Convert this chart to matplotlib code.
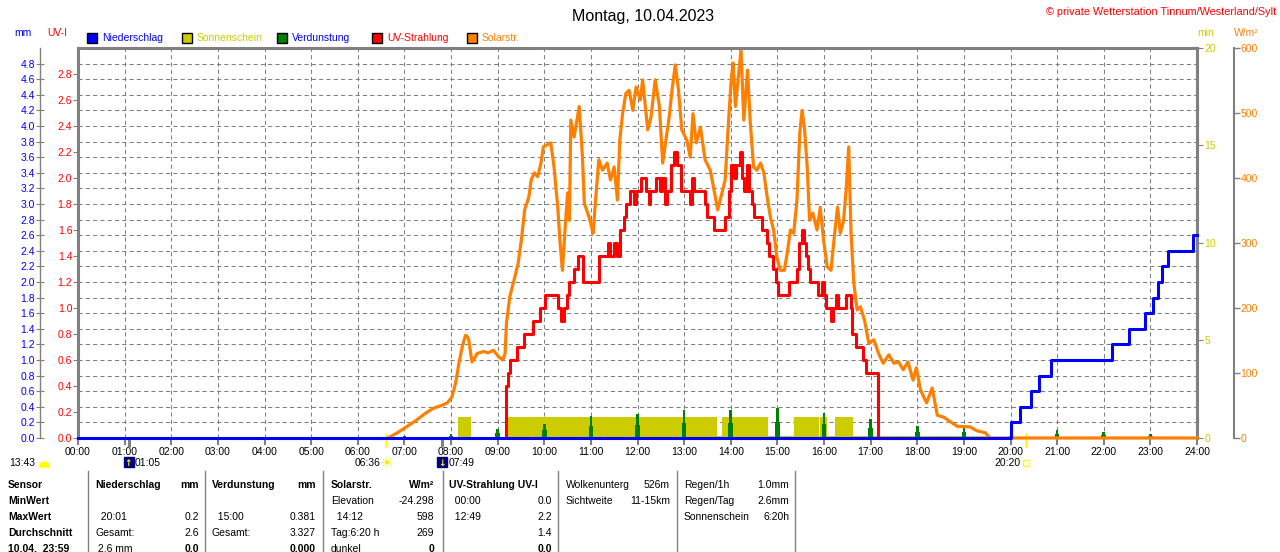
import matplotlib
matplotlib.use("Agg")
import matplotlib.pyplot as plt
import matplotlib.transforms as mtransforms
from matplotlib.patches import Rectangle, Wedge

# ---------------- data ----------------
title = "Montag, 10.04.2023"
copyright_text = "© private Wetterstation Tinnum/Westerland/Sylt"

hour_ticks = [0, 1, 2, 3, 4, 5, 6, 7, 8, 9, 10, 11, 12, 13, 14, 15, 16, 17, 18, 19, 20, 21, 22, 23, 24]
hour_labels = ["00:00", "01:00", "02:00", "03:00", "04:00", "05:00", "06:00", "07:00", "08:00",
               "09:00", "10:00", "11:00", "12:00", "13:00", "14:00", "15:00", "16:00", "17:00",
               "18:00", "19:00", "20:00", "21:00", "22:00", "23:00", "24:00"]

mm_ticks = [0.0, 0.2, 0.4, 0.6, 0.8, 1.0, 1.2, 1.4, 1.6, 1.8, 2.0, 2.2, 2.4, 2.6, 2.8, 3.0,
            3.2, 3.4, 3.6, 3.8, 4.0, 4.2, 4.4, 4.6, 4.8]
uv_ticks = [0.0, 0.2, 0.4, 0.6, 0.8, 1.0, 1.2, 1.4, 1.6, 1.8, 2.0, 2.2, 2.4, 2.6, 2.8]
min_ticks = [0, 5, 10, 15, 20]
wm2_ticks = [0, 100, 200, 300, 400, 500, 600]

legend_labels = ["Niederschlag", "Sonnenschein", "Verdunstung", "UV-Strahlung", "Solarstr."]
legend_face = ["#0000ff", "#cccc00", "#008000", "#ff0000", "#ff8000"]
legend_text_color = ["#0000ff", "#cccc00", "#0000ff", "#ff0000", "#ff8000"]

# Niederschlag (cumulative mm), step changes
rain_t = [0.0, 20.0, 20.21, 20.44, 20.62, 20.86, 22.17, 22.55, 22.89, 23.06, 23.16, 23.25, 23.38, 23.91, 24.0]
rain_mm = [0.0, 0.2, 0.4, 0.6, 0.8, 1.0, 1.2, 1.4, 1.6, 1.8, 2.0, 2.2, 2.4, 2.6, 2.6]

# Verdunstung (mm per hour)
evap_h = [1, 2, 3, 4, 5, 6, 7, 8, 9, 10, 11, 12, 13, 14, 15, 16, 17, 18, 19, 20, 21, 22, 23]
evap_mm = [0.01, 0.01, 0.01, 0.01, 0.01, 0.01, 0.02, 0.05, 0.11, 0.18, 0.28, 0.31, 0.36, 0.36,
           0.381, 0.32, 0.24, 0.15, 0.13, 0.03, 0.10, 0.08, 0.05]

# Sonnenschein intervals (hours) and bar value (min)
sun_start = [8.16, 9.23, 13.81, 15.36, 15.92, 16.23]
sun_end = [8.43, 13.70, 14.80, 15.89, 16.07, 16.62]
sun_min = [1.1, 1.1, 1.1, 1.1, 1.1, 1.1]
sun_base_t = [12.67, 19.55]
sun_base_v = [0, 0]

# Solarstrahlung W/m2
solar_t = [6.65, 6.85, 7.00, 7.27, 7.45, 7.63, 7.80, 7.92, 8.02, 8.10, 8.17, 8.24, 8.31, 8.35, 8.38,
           8.45, 8.50, 8.56, 8.70, 8.80, 8.91, 9.02, 9.11, 9.16, 9.19, 9.26, 9.37, 9.44, 9.51, 9.58,
           9.67, 9.72, 9.79, 9.86, 9.93, 9.98, 10.07, 10.14, 10.21, 10.29, 10.34, 10.39, 10.45,
           10.50, 10.54, 10.57, 10.64, 10.75, 10.82, 10.86, 10.96, 11.05, 11.10, 11.17, 11.25,
           11.35, 11.42, 11.50, 11.57, 11.62, 11.68, 11.75, 11.82, 11.90, 11.97, 12.06, 12.11,
           12.22, 12.29, 12.38, 12.47, 12.54, 12.61, 12.68, 12.74, 12.81, 12.88, 12.95, 13.06,
           13.13, 13.19, 13.26, 13.35, 13.45, 13.56, 13.63, 13.72, 13.81, 13.88, 13.95, 14.01,
           14.05, 14.10, 14.17, 14.22, 14.28, 14.36, 14.42, 14.49, 14.56, 14.64, 14.71, 14.78,
           14.85, 14.92, 14.99, 15.06, 15.15, 15.21, 15.28, 15.35, 15.42, 15.48, 15.53, 15.58,
           15.64, 15.69, 15.76, 15.85, 15.92, 15.99, 16.07, 16.15, 16.22, 16.29, 16.35, 16.42,
           16.48, 16.53, 16.58, 16.64, 16.71, 16.78, 16.87, 16.96, 17.07, 17.17, 17.27, 17.39,
           17.50, 17.60, 17.70, 17.80, 17.91, 17.98, 18.07, 18.20, 18.32, 18.43, 18.57, 18.71,
           18.86, 19.14, 19.28, 19.46, 19.56, 24.0]
solar_w = [0, 8, 15, 28, 38, 46, 50, 54, 63, 85, 115, 140, 158, 156, 151,
           117, 122, 130, 133, 131, 135, 125, 120, 130, 177, 217, 248, 269, 305, 351,
           371, 397, 408, 402, 423, 448, 451, 454, 417, 355, 300, 258, 325,
           377, 335, 489, 463, 510, 432, 361, 340, 315, 366, 428, 412,
           423, 397, 417, 366, 458, 499, 530, 535, 504, 540, 520, 551,
           474, 494, 551, 510, 423, 458, 494, 535, 574, 535, 474, 458,
           432, 499, 454, 478, 428, 412, 386, 351, 377, 397, 484, 551,
           577, 510, 561, 597, 489, 566, 484, 417, 412, 423, 408, 371,
           340, 320, 278, 258, 258, 284, 320, 315, 366, 469, 504, 478,
           417, 335, 346, 320, 355, 305, 263, 258, 309, 355, 315, 335,
           386, 448, 315, 238, 197, 202, 181, 146, 151, 130, 115, 128,
           115, 117, 105, 117, 89, 108, 74, 54, 77, 35, 32, 25,
           18, 17, 11, 8, 0, 0]

# UV-Strahlung (UV-I), step changes
uv_t = [9.17, 9.18, 9.22, 9.26, 9.41, 9.56, 9.76, 9.91, 10.02, 10.30, 10.36, 10.42, 10.49, 10.54,
        10.63, 10.72, 10.84, 11.17, 11.36, 11.42, 11.49, 11.55, 11.62, 11.70, 11.76, 11.84, 11.92,
        11.97, 12.08, 12.18, 12.24, 12.27, 12.40, 12.48, 12.53, 12.58, 12.64, 12.72, 12.79, 12.84,
        12.94, 13.13, 13.16, 13.22, 13.44, 13.48, 13.64, 13.87, 13.97, 14.01, 14.08, 14.12, 14.19,
        14.24, 14.28, 14.34, 14.40, 14.45, 14.50, 14.66, 14.78, 14.83, 14.90, 14.96, 15.02, 15.26,
        15.43, 15.47, 15.53, 15.58, 15.62, 15.66, 15.70, 15.87, 15.96, 16.00, 16.04, 16.15, 16.20,
        16.26, 16.31, 16.47, 16.57, 16.60, 16.68, 16.84, 16.90, 17.16]
uv_i = [0.0, 0.4, 0.5, 0.6, 0.7, 0.8, 0.9, 1.0, 1.1, 1.0, 0.9, 1.0, 1.1, 1.2,
        1.3, 1.4, 1.2, 1.4, 1.5, 1.4, 1.5, 1.4, 1.6, 1.7, 1.8, 1.9, 1.8,
        1.9, 2.0, 1.9, 1.8, 1.9, 2.0, 1.9, 2.0, 1.8, 1.9, 2.1, 2.2, 2.1,
        1.9, 1.8, 2.0, 1.9, 1.8, 1.7, 1.6, 1.7, 1.9, 2.1, 2.0, 2.1, 2.2,
        2.0, 1.9, 2.1, 1.9, 1.8, 1.7, 1.6, 1.5, 1.4, 1.3, 1.2, 1.1, 1.2,
        1.3, 1.5, 1.6, 1.5, 1.4, 1.3, 1.2, 1.1, 1.2, 1.1, 1.0, 0.9, 1.0,
        1.1, 1.0, 1.1, 1.0, 0.8, 0.7, 0.6, 0.5, 0.0]

# Sun / moon events
event_t = [1 + 5 / 60, 6 + 36 / 60, 7 + 49 / 60, 20 + 20 / 60]
event_label = ["01:05", "06:36", "07:49", "20:20"]
event_kind = ["moonrise", "sunrise", "moonset", "sunset"]
moon_phase_label = "13:43"

# Table
table_rows = [
    ["Sensor", "Niederschlag", "mm", "Verdunstung", "mm", "Solarstr.", "W/m²", "UV-Strahlung UV-I", "",
     "Wolkenunterg", "526m", "Regen/1h", "1.0mm"],
    ["MinWert", "", "", "", "", "Elevation", "-24.298", "  00:00", "0.0",
     "Sichtweite", "11-15km", "Regen/Tag", "2.6mm"],
    ["MaxWert", "  20:01", "0.2", "  15:00", "0.381", "  14:12", "598", "  12:49", "2.2",
     "", "", "Sonnenschein", "6:20h"],
    ["Durchschnitt", "Gesamt:", "2.6", "Gesamt:", "3.327", "Tag:6:20 h", "269", "", "1.4",
     "", "", "", ""],
    ["10.04.  23:59", " 2.6 mm", "0.0", "", "0.000", "dunkel", "0", "", "0.0",
     "", "", "", ""],
]

# ---------------- layout ----------------
W, H = 1280, 552
plt.rcParams["font.family"] = ["Liberation Sans", "DejaVu Sans"]
FS = 7.5
GRAY = "#808080"

fig = plt.figure(figsize=(W / 100, H / 100), dpi=100, facecolor="white")
L, R, T, B = 78, 1197, 48, 438
rect = [L / W, 1 - B / H, (R - L) / W, (B - T) / H]


def fx(x):
    return x / W


def fy(y):
    return 1 - y / H


# base axis: mm + grid
ax = fig.add_axes(rect)
ax.set_xlim(0, 24)
ax.set_ylim(0, 5.0)
ax.set_xticks(hour_ticks)
ax.set_xticklabels(hour_labels)
ax.set_yticks(mm_ticks)
ax.set_yticklabels([f"{v:.1f}" for v in mm_ticks])
ax.grid(True, color=GRAY, linestyle=(0, (4, 3)), linewidth=0.75)
for s in ["top", "right", "bottom"]:
    ax.spines[s].set_visible(False)
ax.spines["left"].set_position(("outward", 27.4))
ax.spines["left"].set_color(GRAY)
ax.spines["left"].set_linewidth(1.0)
ax.tick_params(axis="y", direction="inout", length=5.8, width=0.8, color=GRAY,
               labelcolor="#0000ff", labelsize=FS, pad=0.7)
ax.tick_params(axis="x", direction="out", length=5, width=1.5, color=GRAY,
               labelcolor="black", labelsize=FS, pad=1.5)

# sunshine (min axis, right at frame)
ax_min = ax.twinx()
ax_min.set_ylim(0, 20)
ax_min.set_yticks(min_ticks)
ax_min.set_yticklabels([str(v) for v in min_ticks])
for s in ["left", "top", "bottom"]:
    ax_min.spines[s].set_visible(False)
ax_min.spines["right"].set_color(GRAY)
ax_min.spines["right"].set_linewidth(2.2)
ax_min.tick_params(axis="y", direction="out", length=4.3, width=0.8, color=GRAY,
                   labelcolor="#cccc00", labelsize=FS, pad=1)
ax_min.bar(sun_start, sun_min, width=[e - s for s, e in zip(sun_start, sun_end)],
           align="edge", color="#cccc00", linewidth=0)
ax_min.plot(sun_base_t, sun_base_v, color="#cccc00", lw=3.0, clip_on=False, solid_capstyle="butt")

# evaporation (mm)
ax_ev = fig.add_axes(rect, sharex=ax, sharey=ax)
ax_ev.set_axis_off()
ax_ev.bar(evap_h, evap_mm, width=0.055, color="#008000", linewidth=0)
ax_ev.bar(evap_h, [v * 0.55 for v in evap_mm], width=0.1, color="#008000", linewidth=0)

# solar radiation (W/m2), outer right axis
ax_w = ax.twinx()
ax_w.set_ylim(0, 600)
ax_w.set_yticks(wm2_ticks)
ax_w.set_yticklabels([str(v) for v in wm2_ticks])
for s in ["left", "top", "bottom"]:
    ax_w.spines[s].set_visible(False)
ax_w.spines["right"].set_position(("outward", 26.6))
ax_w.spines["right"].set_color(GRAY)
ax_w.spines["right"].set_linewidth(1.5)
ax_w.tick_params(axis="y", direction="out", length=4.3, width=1.0, color=GRAY,
                 labelcolor="#ff8000", labelsize=FS, pad=0.5)
ax_w.plot(solar_t, solar_w, color="#ff8000", lw=2.3, clip_on=False)

# UV (left, at frame)
ax_uv = ax.twinx()
ax_uv.set_ylim(0, 3.0)
ax_uv.yaxis.tick_left()
ax_uv.set_yticks(uv_ticks)
ax_uv.set_yticklabels([f"{v:.1f}" for v in uv_ticks])
for s in ["right", "bottom"]:
    ax_uv.spines[s].set_visible(False)
for s in ["left", "top"]:
    ax_uv.spines[s].set_visible(True)
    ax_uv.spines[s].set_color(GRAY)
    ax_uv.spines[s].set_linewidth(2.2)
ax_uv.tick_params(axis="y", direction="out", length=3.6, width=0.8, color=GRAY,
                  labelcolor="#ff0000", labelsize=FS, pad=0.5)
ax_uv.plot(uv_t, uv_i, drawstyle="steps-post", color="#ff0000", lw=2.2)

# rain (mm)
ax_r = fig.add_axes(rect, sharex=ax, sharey=ax)
ax_r.set_axis_off()
ax_r.plot(rain_t, rain_mm, drawstyle="steps-post", color="#0000ff", lw=2.2, clip_on=False)

# ---------------- events below the axis ----------------
blend_ax = mtransforms.blended_transform_factory(ax.transData, ax.transAxes)
blend_fig = mtransforms.blended_transform_factory(ax.transData, fig.transFigure)
for t, lab, kind in zip(event_t, event_label, event_kind):
    if kind in ("sunrise", "sunset"):
        ax.plot([t, t], [-0.023, 0.013], transform=blend_ax, color="#ffff00", lw=2.0,
                clip_on=False, solid_capstyle="butt")
    else:
        ax.plot([t, t], [0.0, -0.023], transform=blend_ax, color=GRAY, lw=2.2,
                clip_on=False, solid_capstyle="butt")
    if kind in ("moonrise", "moonset"):
        ax.annotate(lab, xy=(t, fy(463)), xycoords=("data", "figure fraction"), xytext=(6, 0),
                    textcoords="offset pixels", ha="left", va="center", fontsize=FS,
                    annotation_clip=False)
        ax.plot([t], [fy(462)], transform=blend_fig, marker="s", markersize=7.5, color="#000080",
                clip_on=False)
        ax.annotate("↑" if kind == "moonrise" else "↓", xy=(t, fy(463)),
                    xycoords=("data", "figure fraction"), ha="center", va="center",
                    fontsize=6.5, color="#ffff00", family="DejaVu Sans", annotation_clip=False,
                    fontweight="bold")
    else:
        ax.annotate(lab, xy=(t, fy(463)), xycoords=("data", "figure fraction"), xytext=(-5, 0),
                    textcoords="offset pixels", ha="right", va="center", fontsize=FS,
                    annotation_clip=False)
        if kind == "sunrise":
            ax.annotate("☀", xy=(t, fy(463)), xycoords=("data", "figure fraction"),
                        xytext=(1, 0), textcoords="offset pixels", ha="center", va="center",
                        fontsize=11, color="#ffee00", family="DejaVu Sans", annotation_clip=False)
        else:
            ax.plot([t], [fy(463)], transform=blend_fig, marker="s", markersize=4,
                    markerfacecolor="none", markeredgecolor="#ffff00", markeredgewidth=1.0,
                    clip_on=False)

fig.text(fx(9), fy(463), moon_phase_label, fontsize=FS, va="center", ha="left")
fig.patches.append(Wedge((44.5 / 100, (H - 467) / 100), 0.05, 0, 180, color="#ffff00",
                         transform=fig.dpi_scale_trans))

# ---------------- titles & axis labels ----------------
fig.text(fx(643), fy(16), title, fontsize=11.5, ha="center", va="center")
fig.text(fx(1276), fy(12), copyright_text, fontsize=7.8, ha="right", va="center", color="#ff0000")
fig.text(fx(14), fy(33), "mm", fontsize=FS, color="#0000ff", va="center")
fig.text(fx(47), fy(33), "UV-I", fontsize=FS, color="#ff0000", va="center")
fig.text(fx(1197), fy(33), "min", fontsize=FS, color="#cccc00", va="center")
fig.text(fx(1234), fy(33), "W/m²", fontsize=FS, color="#ff8000", va="center")

# legend
for i, (lab, fc, tc) in enumerate(zip(legend_labels, legend_face, legend_text_color)):
    x0 = 87 + 95 * i
    fig.patches.append(Rectangle((fx(x0), fy(43)), 10 / W, 10 / H, transform=fig.transFigure,
                                 facecolor=fc, edgecolor="black", linewidth=1.0))
    fig.text(fx(x0 + 15), fy(38), lab, fontsize=FS, color=tc, va="center", ha="left")

# ---------------- table ----------------
row_y = [485, 501, 517, 533, 549]
col_x = [8, 95, 199, 212, 316, 331, 434, 449, 552, 566, 670, 684, 789]
col_ha = ["left", "left", "right", "left", "right", "left", "right", "left", "right",
          "left", "right", "left", "right"]
for r, (row, y) in enumerate(zip(table_rows, row_y)):
    for c, cell in enumerate(row):
        if not cell:
            continue
        bold = (c == 0) or (r == 0 and c <= 8) or (r == 4 and c in (2, 4, 6, 8))
        fig.text(fx(col_x[c]), fy(y), cell, fontsize=FS, ha=col_ha[c], va="center",
                 fontweight="bold" if bold else "normal")
for xs in [88, 205, 323, 443, 558, 677, 795]:
    fig.add_artist(plt.Line2D([fx(xs), fx(xs)], [fy(471), fy(552)], transform=fig.transFigure,
                              color=GRAY, lw=1.0))

fig.savefig("out.png", dpi=100, facecolor="white")
